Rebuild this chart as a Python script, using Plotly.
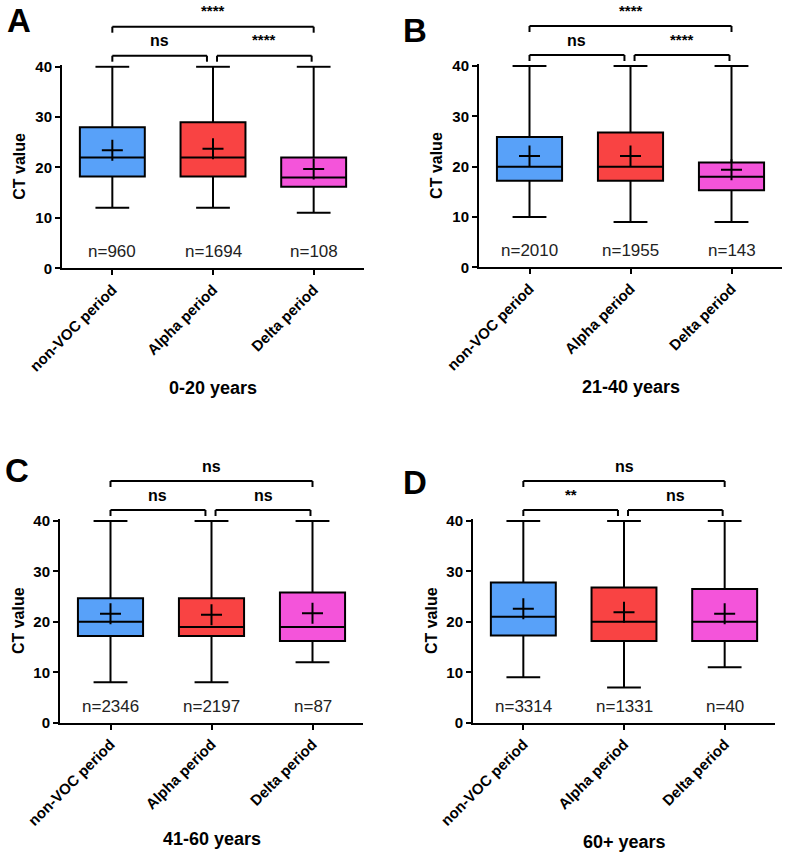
import plotly.graph_objects as go

W, H = 786, 857

categories = ["non-VOC period", "Alpha period", "Delta period"]
box_colors = ["#58A1F9", "#F94343", "#F454DA"]
panel_letters = ["A", "B", "C", "D"]
age_groups = ["0-20 years", "21-40 years", "41-60 years", "60+ years"]

# Panel A (0-20 years)
a_lower = [12, 12, 11]
a_q1 = [18.2, 18.2, 16.2]
a_median = [22, 22, 18]
a_q3 = [28, 29, 22]
a_upper = [40, 40, 40]
a_mean = [23.4, 23.7, 19.7]
a_n = [960, 1694, 108]
a_sig = ["ns", "****", "****"]  # non-VOC vs Alpha, Alpha vs Delta, non-VOC vs Delta

# Panel B (21-40 years)
b_lower = [10, 9, 9]
b_q1 = [17.2, 17.2, 15.3]
b_median = [20, 20, 18]
b_q3 = [25.9, 26.8, 20.8]
b_upper = [40, 40, 40]
b_mean = [22.1, 22.1, 19.4]
b_n = [2010, 1955, 143]
b_sig = ["ns", "****", "****"]

# Panel C (41-60 years)
c_lower = [8, 8, 12]
c_q1 = [17.2, 17.2, 16.2]
c_median = [20, 19, 19]
c_q3 = [24.7, 24.7, 25.8]
c_upper = [40, 40, 40]
c_mean = [21.6, 21.4, 21.7]
c_n = [2346, 2197, 87]
c_sig = ["ns", "ns", "ns"]

# Panel D (60+ years)
d_lower = [9, 7, 11]
d_q1 = [17.3, 16.2, 16.2]
d_median = [21, 20, 20]
d_q3 = [27.8, 26.8, 26.5]
d_upper = [40, 40, 40]
d_mean = [22.6, 21.9, 21.6]
d_n = [3314, 1331, 40]
d_sig = ["**", "ns", "ns"]

y_ticks = [0, 10, 20, 30, 40]

panels = [
    (a_lower, a_q1, a_median, a_q3, a_upper, a_mean, a_n, a_sig),
    (b_lower, b_q1, b_median, b_q3, b_upper, b_mean, b_n, b_sig),
    (c_lower, c_q1, c_median, c_q3, c_upper, c_mean, c_n, c_sig),
    (d_lower, d_q1, d_median, d_q3, d_upper, d_mean, d_n, d_sig),
]

# pixel geometry: left, right, y-of-40, y-of-0, letter x, letter y, title offset
geom = [
    (62, 364, 66.7, 268.3, 18.5, 21, 120),
    (479, 782, 66.0, 267.3, 415, 31, 119.5),
    (60, 363, 521.0, 722.7, 17, 470, 116),
    (473, 775, 521.0, 722.7, 415, 482, 119),
]

FONT = "Liberation Sans, Arial, Helvetica, sans-serif"
YMAX = 40.3

fig = go.Figure()
layout = dict(
    width=W, height=H, margin=dict(l=0, r=0, t=0, b=0, autoexpand=False),
    paper_bgcolor="white", plot_bgcolor="white",
    showlegend=False, font=dict(family=FONT, color="black"),
)
shapes = []
annotations = []

for i, (lo, q1, med, q3, up, mean, n, sig) in enumerate(panels):
    left, right, y40, y0, lx, ly, tshift = geom[i]
    ppu = (y0 - y40) / 40.0
    ytop = y40 - (YMAX - 40) * ppu
    dom_h = y0 - ytop
    sfx = "" if i == 0 else str(i + 1)
    xa, ya = "x" + sfx, "y" + sfx

    for k, cat in enumerate(categories):
        fig.add_trace(go.Box(
            x=[cat], q1=[q1[k]], median=[med[k]], q3=[q3[k]],
            lowerfence=[lo[k]], upperfence=[up[k]],
            fillcolor=box_colors[k], line=dict(color="black", width=2),
            width=0.645, whiskerwidth=0.52, boxpoints=False,
            hoverinfo="skip", xaxis=xa, yaxis=ya,
        ))
    fig.add_trace(go.Scatter(
        x=categories, y=mean, mode="markers", cliponaxis=False,
        marker=dict(symbol="cross-thin", size=15, color="black",
                    line=dict(width=2, color="black")),
        hoverinfo="skip", xaxis=xa, yaxis=ya,
    ))

    layout["xaxis" + sfx] = dict(
        domain=[left / W, right / W], anchor=ya, type="category", automargin=False,
        categoryorder="array", categoryarray=categories, range=[-0.5, 2.5],
        showline=True, linecolor="black", linewidth=2,
        ticks="outside", ticklen=5, tickwidth=2, tickcolor="black",
        tickangle=-45, tickfont=dict(size=15, family=FONT, weight="bold", color="black"),
        showgrid=False, zeroline=False, fixedrange=True,
    )
    layout["yaxis" + sfx] = dict(
        domain=[(H - y0) / H, (H - ytop) / H], anchor=xa, range=[0, YMAX],
        automargin=False,
        tickvals=y_ticks, showline=True, linecolor="black", linewidth=2,
        ticks="outside", ticklen=5, tickwidth=2, tickcolor="black",
        tickfont=dict(size=15, family=FONT, weight="bold", color="black"),
        showgrid=False, zeroline=False, fixedrange=True,
    )

    # brackets
    def lvl(px_above_40):
        return ((y0 - y40) + px_above_40) / dom_h

    tick_px = 6
    brackets = [(0, 0.94, 11, sig[0]), (1.04, 1.98, 11, sig[1]), (0, 2, 40, sig[2])]
    for (x0, x1, h, lab) in brackets:
        yb = lvl(h)
        yt = lvl(h - tick_px)
        for seg in [(x0, yt, x0, yb), (x0, yb, x1, yb), (x1, yb, x1, yt)]:
            shapes.append(dict(type="line", xref=xa, yref=ya + " domain",
                               x0=seg[0], y0=seg[1], x1=seg[2], y1=seg[3],
                               line=dict(color="black", width=2)))
        star = "*" in lab
        annotations.append(dict(
            xref=xa, yref=ya + " domain", x=(x0 + x1) / 2, y=yb,
            text=lab, showarrow=False, xanchor="center", yanchor="middle",
            yshift=16 if star else 15,
            font=dict(size=15 if star else 16, family=FONT, weight="bold", color="black"),
        ))

    # n labels
    for k, cat in enumerate(categories):
        annotations.append(dict(
            xref=xa, yref=ya, x=cat, y=3.3, text="n=%d" % n[k],
            showarrow=False, xanchor="center", yanchor="middle",
            font=dict(size=17, family=FONT, color="#222222"),
        ))

    # y axis title
    annotations.append(dict(
        xref=xa + " domain", yref=ya + " domain", x=0, y=0.5, xshift=-42,
        text="CT value", textangle=-90, showarrow=False,
        xanchor="center", yanchor="middle",
        font=dict(size=16, family=FONT, weight="bold", color="black"),
    ))
    # age group title
    annotations.append(dict(
        xref=xa + " domain", yref=ya + " domain", x=0.5, y=0, yshift=-tshift,
        text=age_groups[i], showarrow=False, xanchor="center", yanchor="middle",
        font=dict(size=18, family=FONT, weight="bold", color="black"),
    ))
    # panel letter
    annotations.append(dict(
        xref="paper", yref="paper", x=lx / W, y=1 - ly / H,
        text=panel_letters[i], showarrow=False, xanchor="center", yanchor="middle",
        font=dict(size=33, family=FONT, weight="bold", color="black"),
    ))

layout["shapes"] = shapes
layout["annotations"] = annotations
fig.update_layout(**layout)
fig.write_html(
    "out.html",
    config={"displayModeBar": False, "staticPlot": True},
    post_script="document.body.style.margin='0px';document.body.style.padding='0px';",
)
